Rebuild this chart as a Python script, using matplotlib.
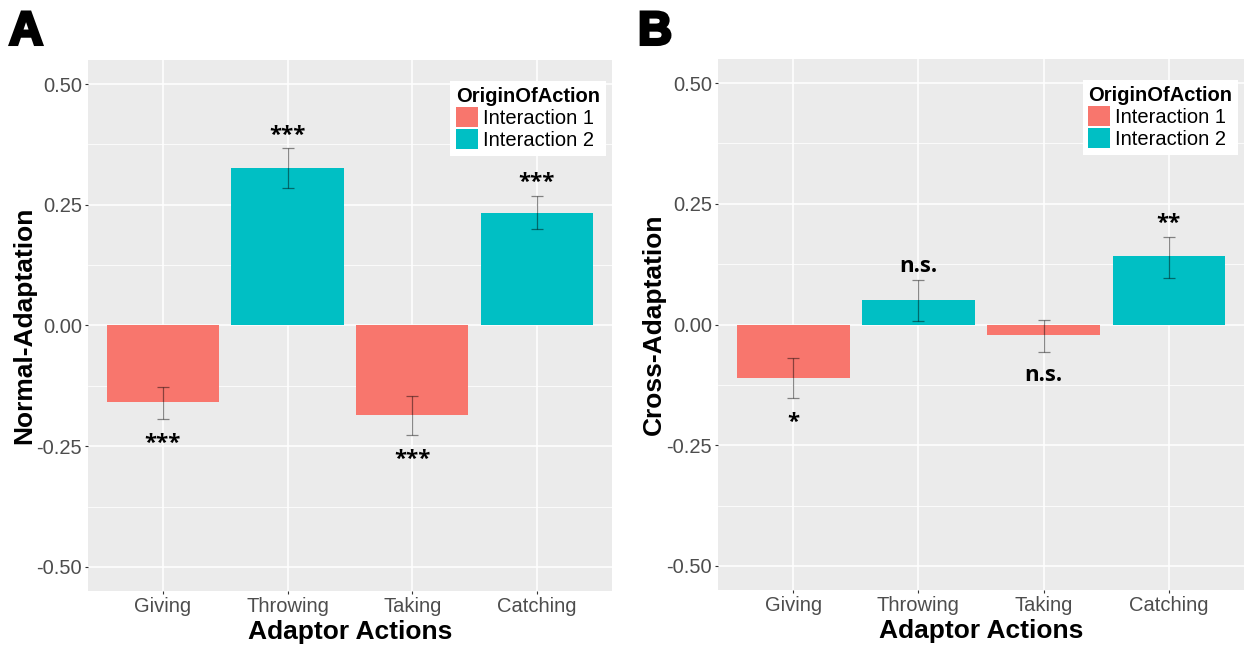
import matplotlib
matplotlib.use("Agg")
import matplotlib.pyplot as plt
import matplotlib.patheffects as pe
from matplotlib.patches import Patch

# ---- data -------------------------------------------------------------
actions = ["Giving", "Throwing", "Taking", "Catching"]
origin = ["Interaction 1", "Interaction 2", "Interaction 1", "Interaction 2"]
origin_levels = ["Interaction 1", "Interaction 2"]

normal_mean = [-0.158, 0.327, -0.185, 0.234]
normal_lo = [-0.194, 0.284, -0.227, 0.199]
normal_hi = [-0.127, 0.367, -0.147, 0.268]
normal_sig = ["***", "***", "***", "***"]

cross_mean = [-0.110, 0.050, -0.021, 0.141]
cross_lo = [-0.153, 0.008, -0.056, 0.097]
cross_hi = [-0.070, 0.092, 0.010, 0.181]
cross_sig = ["*", "n.s.", "n.s.", "**"]

y_ticks = [-0.50, -0.25, 0.00, 0.25, 0.50]
y_minor = [-0.375, -0.125, 0.125, 0.375]

palette = {"Interaction 1": "#F8766D", "Interaction 2": "#00BFC4"}

# ---- figure -----------------------------------------------------------
W, H = 1246, 647
fig = plt.figure(figsize=(W / 100, H / 100), dpi=100)
fig.patch.set_facecolor("white")

SANS = "Liberation Sans"


def px_axes(left, right, top, bottom):
    return fig.add_axes([left / W, 1 - bottom / H, (right - left) / W, (bottom - top) / H])


def panel(ax, mean, lo, hi, sig, ylabel):
    x = list(range(1, len(actions) + 1))
    ax.set_facecolor("#EBEBEB")
    for s in ax.spines.values():
        s.set_visible(False)
    ax.set_xlim(0.4, 4.6)
    ax.set_ylim(-0.55, 0.55)
    ax.set_xticks(x)
    ax.set_xticklabels(actions)
    ax.set_yticks(y_ticks)
    ax.set_yticklabels([f"{v:.2f}" for v in y_ticks])
    ax.set_yticks(y_minor, minor=True)
    ax.set_axisbelow(True)
    ax.grid(which="major", color="white", linewidth=1.1)
    ax.grid(which="minor", axis="y", color="white", linewidth=0.55)
    ax.tick_params(which="major", length=2.5, width=0.8, color="#333333",
                   labelcolor="#4D4D4D", labelsize=14.5, pad=2)
    ax.tick_params(which="minor", length=0)
    for t in ax.get_xticklabels() + ax.get_yticklabels():
        t.set_fontfamily(SANS)

    colors = [palette[o] for o in origin]
    ax.bar(x, mean, width=0.9, color=colors, zorder=2)
    yerr = [[m - l for m, l in zip(mean, lo)], [h - m for m, h in zip(mean, hi)]]
    ax.errorbar(x, mean, yerr=yerr, fmt="none", ecolor="black", alpha=0.45,
                elinewidth=0.9, capsize=4, capthick=0.9, zorder=3)

    # significance markers sit just beyond the end of each error bar
    for xi, m, l, h, s in zip(x, mean, lo, hi, sig):
        if m >= 0:
            yy, off = h, 9.5
        else:
            yy, off = l, -17.5
        ax.annotate(s, (xi, yy), xytext=(0, off), textcoords="offset points",
                    ha="center", va="center", fontfamily="Open Sans",
                    fontweight="bold", fontsize=16, color="black", zorder=4)

    ax.set_xlabel("Adaptor Actions", fontfamily=SANS, fontweight="bold",
                  fontsize=19, color="black")
    ax.xaxis.set_label_coords(0.5, -0.054)
    ax.xaxis.label.set_va("top")
    ax.set_ylabel(ylabel, fontfamily=SANS, fontweight="bold", fontsize=19,
                  color="black")
    ax.yaxis.set_label_coords(-0.099, 0.5)

    bbox_w = ax.get_position().width * W
    bbox_h = ax.get_position().height * H
    handles = [Patch(facecolor=palette[k], edgecolor="none") for k in origin_levels]
    leg = ax.legend(handles, origin_levels, title="OriginOfAction",
                    loc="upper right",
                    bbox_to_anchor=(1 - 6 / bbox_w, 1 - 21 / bbox_h),
                    prop={"family": SANS, "size": 14.5},
                    title_fontproperties={"family": SANS, "weight": "bold", "size": 14.5},
                    frameon=True, fancybox=False, framealpha=1,
                    facecolor="white", edgecolor="none",
                    borderpad=0.28, handlelength=1.07, handleheight=1.1,
                    handletextpad=0.25, labelspacing=0.08, borderaxespad=0,
                    alignment="left")
    leg.get_frame().set_linewidth(0)


ax_a = px_axes(88, 611.7, 60, 591)
panel(ax_a, normal_mean, normal_lo, normal_hi, normal_sig, "Normal-Adaptation")

ax_b = px_axes(718, 1244, 59, 590)
panel(ax_b, cross_mean, cross_lo, cross_hi, cross_sig, "Cross-Adaptation")

for letter, xpx in (("A", 9), ("B", 638)):
    fig.text(xpx / W, 1 - 44.5 / H, letter, fontfamily=SANS, fontweight="bold",
             fontsize=34, color="black", ha="left", va="baseline",
             path_effects=[pe.withStroke(linewidth=2.2, foreground="black",
                                         joinstyle="miter")])

fig.savefig("out.png", dpi=100, facecolor="white")
